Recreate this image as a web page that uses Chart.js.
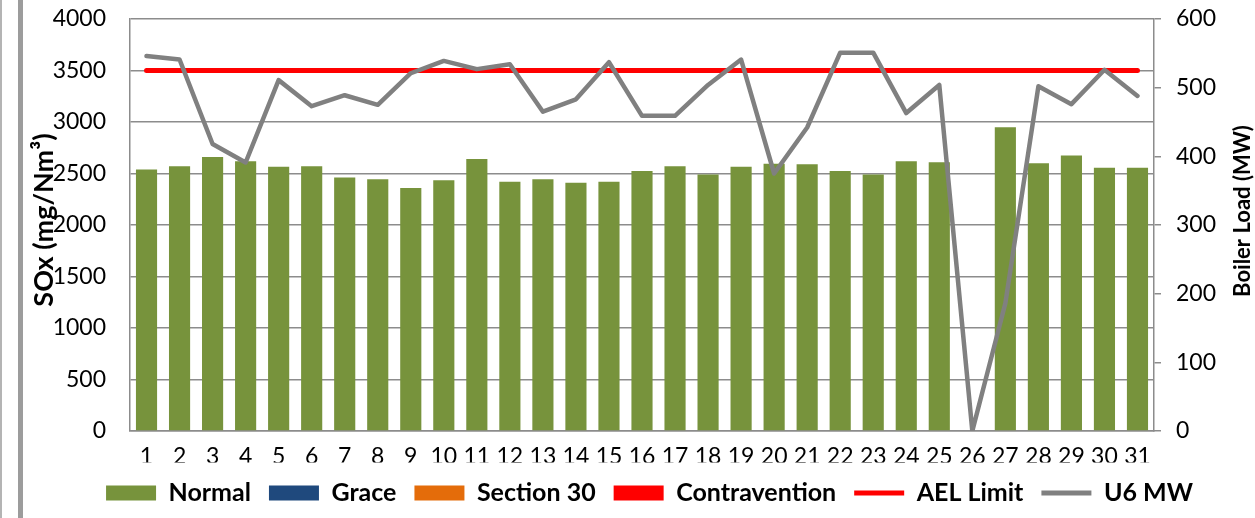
<!DOCTYPE html>
<html>
<head>
<meta charset="utf-8">
<script src="https://cdn.jsdelivr.net/npm/chart.js@4.4.0/dist/chart.umd.min.js"></script>
<style>
html, body { margin: 0; padding: 0; background: #fff; }
#wrap { position: relative; width: 1255px; height: 518px; overflow: hidden; }
#myChart { position: absolute; left: 0; top: 0; }
#edge1 { position: absolute; left: 0; top: 0; width: 2px; height: 518px; background: #b4b4b4; }
#edge2 { position: absolute; left: 18px; top: 0; width: 5px; height: 518px; background: #9c9c9c; }
</style>
</head>
<body>
<div id="wrap">
  <canvas id="myChart" width="1255" height="518"></canvas>
  <div id="edge1"></div>
  <div id="edge2"></div>
</div>
<script>
// days of the month
const days = ['1', '2', '3', '4', '5', '6', '7', '8', '9', '10', '11', '12', '13', '14', '15', '16',
  '17', '18', '19', '20', '21', '22', '23', '24', '25', '26', '27', '28', '29', '30', '31'];

// SOx, mg/Nm3 (left axis)
const normal = [2540, 2570, 2660, 2620, 2565, 2570, 2460, 2445, 2360, 2435, 2640, 2420, 2445, 2410, 2420, 2525,
  2570, 2490, 2565, 2595, 2590, 2525, 2490, 2620, 2610, 0, 2950, 2600, 2675, 2555, 2555];
const grace = [];
const section30 = [];
const contravention = [];
const aelLimit = [3500, 3500, 3500, 3500, 3500, 3500, 3500, 3500, 3500, 3500, 3500, 3500, 3500, 3500, 3500, 3500,
  3500, 3500, 3500, 3500, 3500, 3500, 3500, 3500, 3500, 3500, 3500, 3500, 3500, 3500, 3500];

// boiler load, MW (right axis)
const u6mw = [546, 541, 418, 391, 511, 473, 489, 475, 521, 539, 527, 534, 465, 483, 537, 459,
  459, 504, 541, 375, 442, 551, 551, 463, 504, 0, 186, 502, 476, 526, 488];

const leftMax = 4000, leftStep = 500;
const rightMax = 600, rightStep = 100;

const gridGray = '#8c8c8c';
const tickFont = { family: 'Lato', size: 23 };
const legendFont = { family: 'Lato', size: 25, weight: 'bold' };

// axis titles, both reading bottom-to-top
function sideTitle(c, text, x, y, size) {
  c.save();
  c.font = 'bold ' + size + 'px Lato';
  c.fillStyle = '#000';
  c.textAlign = 'center';
  c.textBaseline = 'middle';
  c.translate(x, y);
  c.rotate(-Math.PI / 2);
  c.fillText(text, 0, 0);
  c.restore();
}
const axisTitles = {
  id: 'axisTitles',
  afterDraw: function (chart) {
    sideTitle(chart.ctx, 'SOx (mg/Nm³)', 44, 220, 27);
    sideTitle(chart.ctx, 'Boiler Load (MW)', 1243, 211, 22);
  }
};

// keep the tick label padding from pushing the plot top down
function noVPad(scale) {
  scale.paddingTop = 0;
  scale.paddingBottom = 0;
}

const ctx = document.getElementById('myChart').getContext('2d');
const myChart = new Chart(ctx, {
  type: 'bar',
  data: {
    labels: days,
    datasets: [
      { label: 'Normal', data: normal, backgroundColor: '#77933C', order: 2 },
      { label: 'Grace', data: grace, backgroundColor: '#1F497D', order: 2 },
      { label: 'Section 30', data: section30, backgroundColor: '#E46C0A', order: 2 },
      { label: 'Contravention', data: contravention, backgroundColor: '#FF0000', order: 2 },
      {
        type: 'line', label: 'AEL Limit', data: aelLimit, yAxisID: 'y',
        borderColor: '#FF0000', backgroundColor: '#FF0000', borderWidth: 5,
        borderCapStyle: 'round', pointRadius: 0, tension: 0, order: 1
      },
      {
        type: 'line', label: 'U6 MW', data: u6mw, yAxisID: 'y1',
        borderColor: '#808080', backgroundColor: '#808080', borderWidth: 4.5,
        borderCapStyle: 'round', borderJoinStyle: 'round', pointRadius: 0, tension: 0, order: 0
      }
    ]
  },
  options: {
    responsive: false,
    animation: false,
    layout: { padding: { top: 19, left: 44, right: 0, bottom: 2.5 } },
    datasets: {
      bar: { grouped: false, categoryPercentage: 1, barPercentage: 0.64 }
    },
    scales: {
      x: {
        grid: { display: false, drawTicks: false },
        border: { display: true, color: gridGray, width: 1.5 },
        ticks: { font: tickFont, color: '#000', padding: 12, maxRotation: 0, autoSkip: false },
        afterFit: function (scale) { scale.height = 31.5; }
      },
      y: {
        position: 'left',
        min: 0, max: leftMax,
        ticks: {
          stepSize: leftStep, font: tickFont, color: '#000', padding: 24,
          callback: function (v) { return String(v); }
        },
        grid: { color: gridGray, lineWidth: 1.5, drawTicks: false },
        border: { display: true, color: gridGray, width: 1.5 },
        afterFit: function (scale) { scale.width = 86; noVPad(scale); }
      },
      y1: {
        position: 'right',
        min: 0, max: rightMax,
        ticks: {
          stepSize: rightStep, font: tickFont, color: '#000', padding: 15,
          callback: function (v) { return String(v); }
        },
        grid: { drawOnChartArea: false, color: gridGray, lineWidth: 1.5, tickLength: 7 },
        border: { display: true, color: gridGray, width: 1.5 },
        afterFit: function (scale) { scale.width = 101; noVPad(scale); }
      }
    },
    plugins: {
      tooltip: { enabled: false },
      legend: {
        position: 'bottom',
        labels: {
          font: legendFont,
          color: '#000',
          boxWidth: 50,
          boxHeight: 15,
          usePointStyle: true,
          pointStyleWidth: 50,
          padding: 18,
          sort: function (a, b) { return a.datasetIndex - b.datasetIndex; },
          generateLabels: function (chart) {
            const items = Chart.defaults.plugins.legend.labels.generateLabels(chart);
            items.forEach(function (it) {
              const ds = chart.data.datasets[it.datasetIndex];
              if (ds.type === 'line') {
                it.pointStyle = 'line';
                it.strokeStyle = ds.borderColor;
                it.lineWidth = 5;
              } else {
                it.pointStyle = 'rect';
                it.lineWidth = 0;
              }
            });
            return items;
          }
        }
      }
    }
  },
  plugins: [axisTitles]
});
</script>
</body>
</html>
